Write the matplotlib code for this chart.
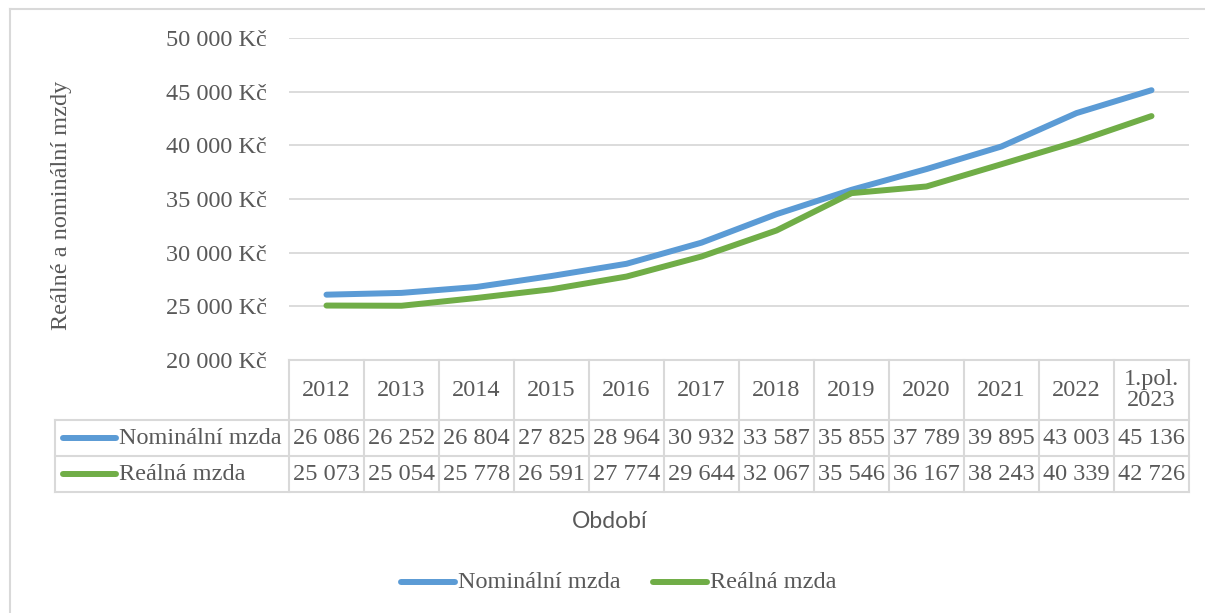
import matplotlib.pyplot as plt
from matplotlib.lines import Line2D

periods = ['2012', '2013', '2014', '2015', '2016', '2017', '2018', '2019',
           '2020', '2021', '2022', '1.pol.\n2023']
nominal = [26086, 26252, 26804, 27825, 28964, 30932, 33587, 35855,
           37789, 39895, 43003, 45136]
real = [25073, 25054, 25778, 26591, 27774, 29644, 32067, 35546,
        36167, 38243, 40339, 42726]
series_names = ['Nominální mzda', 'Reálná mzda']
colors = ['#5B9BD5', '#70AD47']
yticks = [20000, 25000, 30000, 35000, 40000, 45000, 50000]

W, H = 1205, 613
TXT = '#595959'
GRID = '#D9D9D9'
SERIF = 'Liberation Serif'
FS = 17.5

fig = plt.figure(figsize=(W / 100, H / 100), dpi=100)


def fx(x):
    return x / W


def fy(y):
    return 1 - y / H


# plot area in pixels
L, R, T, B = 289, 1189, 38, 360
ax = fig.add_axes([fx(L), fy(B), fx(R - L), (B - T) / H])
n = len(periods)
xs = [i + 0.5 for i in range(n)]
ax.plot(xs, nominal, color=colors[0], lw=4.3, solid_capstyle='round', zorder=3)
ax.plot(xs, real, color=colors[1], lw=4.3, solid_capstyle='round', zorder=3)
ax.set_xlim(0, n)
ax.set_ylim(20000, 50000)
ax.set_yticks(yticks)
ax.set_yticklabels([f'{v:,} Kč'.replace(',', ' ') for v in yticks],
                   fontfamily=SERIF, fontsize=FS, color=TXT)
ax.tick_params(axis='y', length=0, pad=16)
ax.set_xticks([])
for s in ax.spines.values():
    s.set_visible(False)
for v in yticks[1:]:
    ax.axhline(v, color=GRID, lw=1.3, zorder=1)

# outer chart border (left and top)
fig.add_artist(Line2D([fx(10), fx(10)], [fy(9), fy(613)], color=GRID, lw=1.5))
fig.add_artist(Line2D([fx(10), fx(1205)], [fy(9), fy(9)], color=GRID, lw=1.5))

fig.text(fx(62), fy(205), 'Reálné a nominální mzdy', rotation=90,
         ha='center', va='center', fontfamily=SERIF, fontsize=FS, color=TXT)

# data table
col_w = (R - L) / n
rows_y = [360, 420, 456, 492]
tl = dict(color=GRID, lw=1.5)
fig.add_artist(Line2D([fx(L), fx(R)], [fy(rows_y[0])] * 2, **tl))
for y in rows_y[1:]:
    fig.add_artist(Line2D([fx(55), fx(R)], [fy(y)] * 2, **tl))
for i in range(n + 1):
    x = L + i * col_w
    fig.add_artist(Line2D([fx(x)] * 2, [fy(rows_y[0]), fy(rows_y[-1])], **tl))
fig.add_artist(Line2D([fx(55)] * 2, [fy(rows_y[1]), fy(rows_y[-1])], **tl))

for i, p in enumerate(periods):
    cx = L + (i + 0.5) * col_w
    fig.text(fx(cx), fy(390), p, ha='center', va='center', fontfamily=SERIF,
             fontsize=FS, color=TXT, linespacing=1.0)
    for vals, ry in ((nominal, 438), (real, 474)):
        fig.text(fx(cx), fy(ry), f'{vals[i]:,}'.replace(',', ' '), ha='center',
                 va='center', fontfamily=SERIF, fontsize=FS, color=TXT)

for name, c, ry in zip(series_names, colors, (438, 474)):
    fig.add_artist(Line2D([fx(63), fx(116)], [fy(ry)] * 2, color=c, lw=4.3,
                          solid_capstyle='round'))
    fig.text(fx(119), fy(ry), name, ha='left', va='center', fontfamily=SERIF,
             fontsize=FS, color=TXT)

fig.text(fx(610), fy(521), 'Období', ha='center', va='center', fontfamily='Lato',
         fontsize=16.5, color=TXT)

# bottom legend
for name, c, x0 in zip(series_names, colors, (401, 653)):
    fig.add_artist(Line2D([fx(x0), fx(x0 + 54)], [fy(582)] * 2, color=c, lw=4.3,
                          solid_capstyle='round'))
    fig.text(fx(x0 + 57), fy(582), name, ha='left', va='center', fontfamily=SERIF,
             fontsize=FS, color=TXT)

fig.savefig('out.png', dpi=100)
